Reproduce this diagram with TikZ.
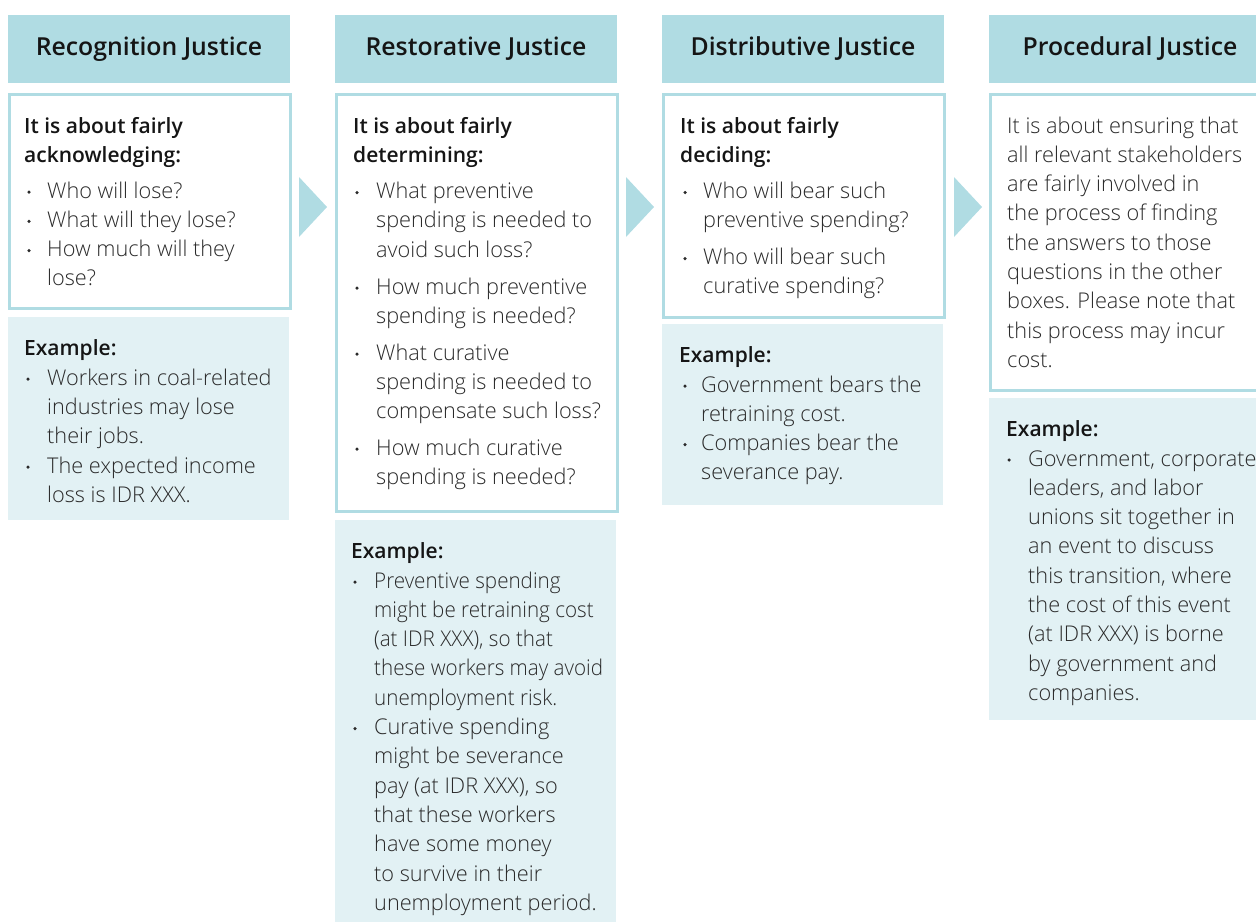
\documentclass[tikz,border=0pt]{standalone}
\usepackage{fontspec}
\setmainfont{Open Sans}
\newfontfamily\lightf{Open Sans Light}
\newfontfamily\semif{Open Sans Semibold}
\definecolor{hdrc}{HTML}{B0DCE3}
\definecolor{exc}{HTML}{E2F1F4}
\definecolor{txtc}{HTML}{2A2A2A}
\definecolor{boldc}{HTML}{151515}
\tikzset{
  hdrbox/.style={fill=hdrc, draw=none, inner sep=0, anchor=north west, minimum width=282pt, minimum height=68pt},
  qbox/.style={fill=white, draw=hdrc, line width=2.6pt, inner sep=0, anchor=north west},
  exbox/.style={fill=exc, draw=none, inner sep=0, anchor=north west},
  htext/.style={anchor=base, inner sep=0, font=\semif\fontsize{24.8}{28}\selectfont, text=boldc},
  tl/.style={anchor=base west, inner sep=0, font=\lightf\fontsize{21.7}{29}\selectfont, text=txtc},
  bold/.style={font=\semif\fontsize{21}{29}\selectfont, text=boldc},
  bul/.style={circle, fill=txtc, inner sep=0, minimum size=3.5pt},
  chevron/.style={fill=hdrc, draw=none}
}
\newcommand\txt[5][]{%
  \foreach \t [count=\i from 0] in {#5}{\node[tl,#1] (#2-\i) at (#3,#4+29.3*\i) {\t};}}
\newcommand\itm[5]{%
  \node[bul] (#1-b) at (#2,#4-6) {};
  \txt{#1}{#3}{#4}{#5}}
\begin{document}
\begin{tikzpicture}[x=1pt,y=-1pt]
\useasboundingbox (0,0) rectangle (1256,922);
\clip (0,0) rectangle (1256,922);
% headers
\node[hdrbox] (h1) at (8,15) {};
\node[hdrbox] (h2) at (335,15) {};
\node[hdrbox] (h3) at (662,15) {};
\node[hdrbox] (h4) at (989,15) {};
\node[htext] (h1t) at (149,55) {Recognition Justice};
\node[htext] (h2t) at (476,55) {Restorative Justice};
\node[htext] (h3t) at (803,55) {Distributive Justice};
\node[htext] (h4t) at (1130,55) {Procedural Justice};
% question boxes
\node[qbox, minimum width=281pt, minimum height=214pt] (q1) at (8,93) {};
\node[qbox, minimum width=281pt, minimum height=417pt] (q2) at (335,93) {};
\node[qbox, minimum width=281pt, minimum height=223pt] (q3) at (662,93) {};
\node[qbox, minimum width=290pt, minimum height=296pt] (q4) at (989,93) {};
% example boxes
\node[exbox, minimum width=281pt, minimum height=203pt] (e1) at (8,317) {};
\node[exbox, minimum width=281pt, minimum height=402pt] (e2) at (335,520) {};
\node[exbox, minimum width=281pt, minimum height=181pt] (e3) at (662,324) {};
\node[exbox, minimum width=290pt, minimum height=322pt] (e4) at (989,398) {};
% chevrons
\fill[chevron] (299,177) -- (327,207) -- (299,237) -- cycle;
\fill[chevron] (626,177) -- (654,207) -- (626,237) -- cycle;
\fill[chevron] (954,177) -- (982,207) -- (954,237) -- cycle;
% column 1
\txt[bold]{c1q}{24}{133}{It is about fairly, acknowledging:}
\itm{c1i1}{29}{47}{198}{Who will lose?}
\itm{c1i2}{29}{47}{227.3}{What will they lose?}
\itm{c1i3}{29}{47}{256.6}{How much will they, lose?}
\txt[bold]{c1e}{24}{355}{Example:}
\itm{c1x1}{28}{47}{385}{Workers in coal-related, industries may lose, their jobs.}
\itm{c1x2}{28}{47}{473}{The expected income, loss is IDR XXX.}
% column 2
\txt[bold]{c2q}{353}{133}{It is about fairly, determining:}
\itm{c2i1}{357}{376}{198.5}{What preventive, spending is needed to, avoid such loss?}
\itm{c2i2}{357}{376}{294}{How much preventive, spending is needed?}
\itm{c2i3}{357}{376}{360}{What curative, spending is needed to, compensate such loss?}
\itm{c2i4}{357}{376}{455}{How much curative, spending is needed?}
\txt[bold]{c2e}{351}{558}{Example:}
\node[bul] (c2x1-b) at (355,582) {};
\begin{scope}[shift={(374,0)}, xscale=0.95, transform shape]
\txt{c2x1}{0}{588}{Preventive spending, might be retraining cost, {(at IDR XXX), so that}, these workers may avoid, unemployment risk.}
\end{scope}
\itm{c2x2}{355}{374}{734.5}{Curative spending, might be severance, {pay (at IDR XXX), so}, that these workers, have some money, to survive in their, unemployment period.}
% column 3
\txt[bold]{c3q}{680}{133}{It is about fairly, deciding:}
\itm{c3i1}{685}{703}{198.5}{Who will bear such, preventive spending?}
\itm{c3i2}{685}{703}{264.5}{Who will bear such, curative spending?}
\txt[bold]{c3e}{679}{362}{Example:}
\itm{c3x1}{685}{701}{392}{Government bears the, retraining cost.}
\itm{c3x2}{685}{701}{450.6}{Companies bear the, severance pay.}
% column 4
\txt{c4q}{1007}{133}{It is about ensuring that, all relevant stakeholders, are fairly involved in, the process of finding, the answers to those, questions in the other, {boxes. Please note that}, this process may incur, cost.}
\txt[bold]{c4e}{1006}{436}{Example:}
\itm{c4x1}{1009}{1028}{466}{{Government, corporate}, {leaders, and labor}, unions sit together in, an event to discuss, {this transition, where}, the cost of this event, (at IDR XXX) is borne, by government and, companies.}
\end{tikzpicture}
\end{document}
